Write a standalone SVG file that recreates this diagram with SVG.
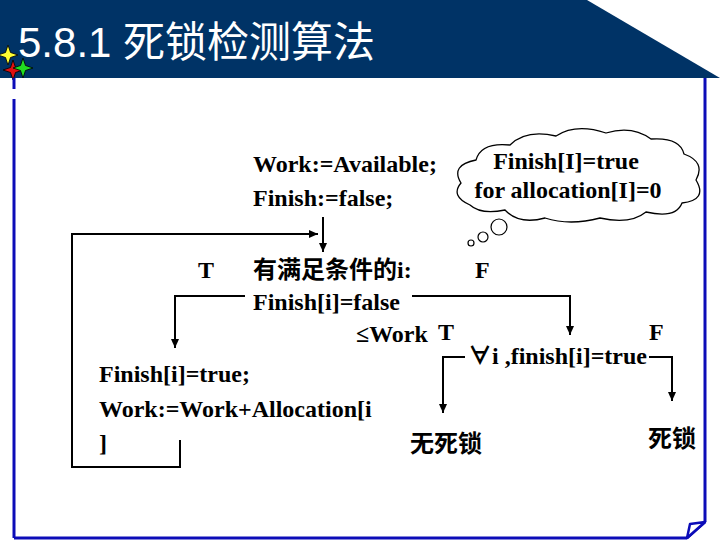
<svg xmlns="http://www.w3.org/2000/svg" width="720" height="540" viewBox="0 0 720 540">
<style>
.t{font-family:"Liberation Serif","Noto Sans CJK SC",serif;font-weight:bold;font-size:24px;fill:#000}
.c{font-family:"Liberation Serif","Noto Sans CJK SC",serif;font-weight:bold;font-size:24px;fill:#000}
.ln{fill:none;stroke:#000;stroke-width:2}
.frame{fill:none;stroke:#0c0cb8;stroke-width:3}
.star{stroke:#000;stroke-width:0.8}
</style>
<defs>
<marker id="ah" markerUnits="userSpaceOnUse" markerWidth="10" markerHeight="10" refX="9" refY="4" orient="auto">
<path d="M0,0 L9,4 L0,8 Z" fill="#000"/>
</marker>
</defs>
<rect width="720" height="540" fill="#fff"/>
<g id="header">
<polygon points="0,0 587,0 720,78 0,78" fill="#003366"/>
<text x="18" y="57" font-family="Liberation Sans,Noto Sans CJK SC,sans-serif" font-size="42" fill="#fff">5.8.1 死锁检测算法</text>
<polygon class="star" fill="#ffff33" points="8,45 10.5,52.5 18,55 10.5,57.5 8,65 5.5,57.5 -2,55 5.5,52.5"/>
<polygon class="star" fill="#e01010" points="13,60 15.5,67.5 23,70 15.5,72.5 13,80 10.5,72.5 3,70 10.5,67.5"/>
<polygon class="star" fill="#22dd22" points="23,58 25.5,65.5 33,68 25.5,70.5 23,78 20.5,70.5 13,68 20.5,65.5"/>
</g>
<g id="frame">
<line class="frame" x1="14" y1="78" x2="14" y2="89"/>
<line class="frame" x1="14" y1="99" x2="14" y2="538"/>
<line class="frame" x1="14" y1="538" x2="687" y2="538"/>
<line class="frame" x1="705" y1="78" x2="705" y2="522"/>
<line class="frame" x1="705" y1="522" x2="687" y2="538"/>
<polygon points="690,524 705,522 687,538" fill="#fff" stroke="#0c0cb8" stroke-width="2.5" stroke-linejoin="round"/>
</g>
<g id="cloud">
<path d="M470 205 Q450 196 461 183 Q450 165 476 160 Q481 142 510 145 Q526 129 556 136 Q576 123 606 133 Q632 125 651 139 Q680 137 684 154 Q706 162 696 180 Q708 200 682 203 Q676 219 646 212 Q630 225 600 218 Q570 226 545 218 Q519 225 505 210 Q481 215 470 205 Z" fill="#fff" stroke="#000" stroke-width="1.3"/>
<circle cx="499" cy="227" r="8" fill="#fff" stroke="#000" stroke-width="1.2"/>
<circle cx="483" cy="237" r="5" fill="#fff" stroke="#000" stroke-width="1.2"/>
<circle cx="471" cy="243" r="3" fill="#fff" stroke="#000" stroke-width="1.2"/>
<text class="t" x="566" y="169" text-anchor="middle">Finish[I]=true</text>
<text class="t" x="568" y="198" text-anchor="middle">for allocation[I]=0</text>
</g>
<g id="init">
<text class="t" x="253" y="172">Work:=Available;</text>
<text class="t" x="253" y="206">Finish:=false;</text>
</g>
<g id="cond">
<text class="c" x="253" y="278">有满足条件的i:</text>
<text class="t" x="253" y="310">Finish[i]=false</text>
<text class="t" x="356" y="342">≤Work</text>
</g>
<g id="update">
<text class="t" x="99" y="382">Finish[i]=true;</text>
<text class="t" x="99" y="417">Work:=Work+Allocation[i</text>
<text class="t" x="99" y="451">]</text>
</g>
<g id="check">
<text class="t" x="468" y="364">∀i ,finish[i]=true</text>
</g>
<g id="nodeadlock">
<text class="c" x="410" y="452">无死锁</text>
</g>
<g id="deadlock">
<text class="c" x="648" y="447">死锁</text>
</g>
<g id="labels">
<text class="t" x="198" y="278">T</text>
<text class="t" x="475" y="278">F</text>
<text class="t" x="438" y="340">T</text>
<text class="t" x="649" y="340">F</text>
</g>
<g id="connectors">
<line class="ln" x1="323" y1="217" x2="323" y2="252" marker-end="url(#ah)"/>
<polyline class="ln" points="180,440 180,467 72,467 72,234 318,234" marker-end="url(#ah)"/>
<polyline class="ln" points="245,296 175,296 175,348" marker-end="url(#ah)"/>
<polyline class="ln" points="412,296 570,296 570,335" marker-end="url(#ah)"/>
<polyline class="ln" points="465,357 443,357 443,413" marker-end="url(#ah)"/>
<polyline class="ln" points="649,357 672,357 672,401" marker-end="url(#ah)"/>
</g>
</svg>
